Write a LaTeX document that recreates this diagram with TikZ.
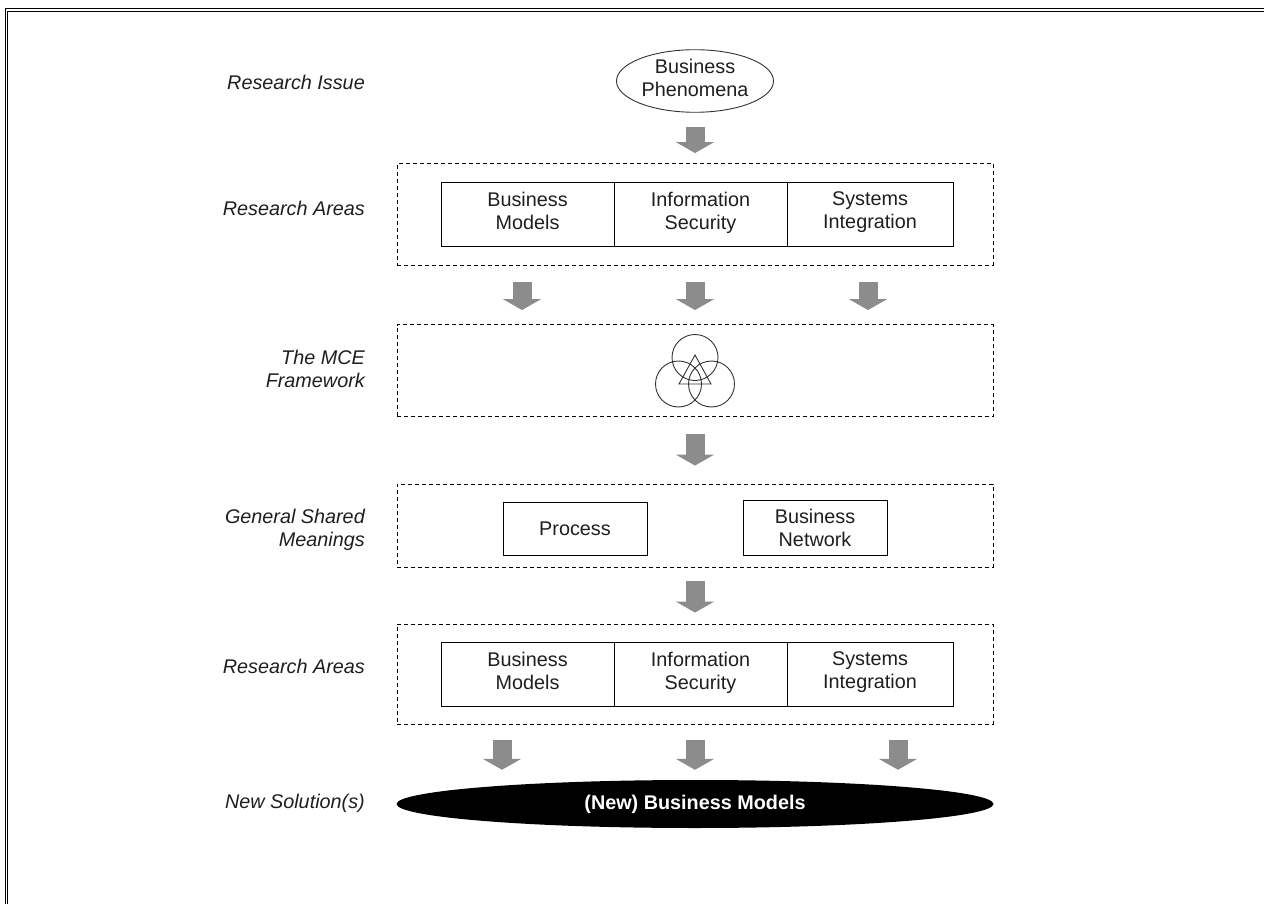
\documentclass[tikz,border=0pt]{standalone}
\usepackage{fontspec}
\setmainfont{Liberation Sans}
\usetikzlibrary{shapes.geometric,arrows.meta}
\definecolor{arrowgray}{RGB}{140,140,140}
\definecolor{labgray}{RGB}{30,30,30}
\definecolor{symgray}{RGB}{50,50,50}
\newcommand\bodyfont{\fontsize{19.8}{23}\selectfont}
\tikzset{
  lab/.style={font=\bodyfont\itshape, align=right, anchor=east, text=labgray, inner sep=0},
  cellbase/.style={draw, line width=0.9pt, minimum height=64, inner sep=0, align=center, font=\bodyfont, text=labgray},
  cell/.style={cellbase, execute at end node=\strut},
  grp/.style={draw, dash pattern=on 4pt off 3pt, line width=0.9pt, inner sep=0},
  barrow/.style={line width=19pt, draw=arrowgray, -{Triangle[width=38pt,length=11pt]}},
  ring/.style={circle, draw=symgray, line width=0.9pt, minimum size=46, inner sep=0},
  frame/.style={line width=1.1pt}
}
\begin{document}
\begin{tikzpicture}[x=1pt,y=-1pt]
\useasboundingbox (0,0) rectangle (1264,904);
% double frame
\draw[frame] (5.5,904) -- (5.5,8.3) -- (1264,8.3);
\draw[frame] (7.8,904) -- (7.8,11.6) -- (1264,11.6);

% labels
\node[lab] (l1) at (365,82) {Research Issue};
\node[lab] (l2) at (365,208) {Research Areas};
\node[lab] (l3) at (365,369) {The MCE\\Framework};
\node[lab] (l4) at (365,530) {General Shared\\Meanings};
\node[lab] (l5) at (365,666) {Research Areas};
\node[lab] (l6) at (365,803) {New Solution(s)};

% research issue
\node[ellipse, draw=symgray, line width=0.9pt, minimum width=157, minimum height=58, inner sep=0, align=center, font=\bodyfont, text=labgray, execute at end node=\strut] (ph) at (695,81) {Business\\Phenomena};

% group boxes
\node[grp, minimum width=596, minimum height=101.5] (g1) at (695,214.25) {};
\node[grp, minimum width=596, minimum height=92] (g2) at (695,370.5) {};
\node[grp, minimum width=596, minimum height=83] (g3) at (695,525.5) {};
\node[grp, minimum width=596, minimum height=100] (g4) at (695,674) {};

% research areas 1
\node[cell, minimum width=173] (bm1) at (527.5,214) {Business\\Models};
\node[cell, minimum width=173] (is1) at (700.5,214) {Information\\Security};
\node[cell, minimum width=166] (si1) at (870,214) {Systems\\Integration};

% MCE symbol
\node[ring] (c1) at (695,357.5) {};
\node[ring] (c2) at (678.5,384) {};
\node[ring] (c3) at (711.5,384) {};
\draw[symgray, line width=0.9pt] (695,355) -- (679,384) -- (711,384) -- cycle;

% shared meanings
\node[cellbase, minimum width=144, minimum height=53] (pr) at (575,529) {Process};
\node[cellbase, minimum width=144, minimum height=55] (bn) at (815,527.5) {Business\\Network};

% research areas 2
\node[cell, minimum width=173] (bm2) at (527.5,674) {Business\\Models};
\node[cell, minimum width=173] (is2) at (700.5,674) {Information\\Security};
\node[cell, minimum width=166] (si2) at (870,674) {Systems\\Integration};

% new solution
\node[ellipse, fill=black, minimum width=597, minimum height=48, inner sep=0, text=white, font=\bodyfont\bfseries] (ns) at (695,804) {(New) Business Models};

% block arrows
\draw[barrow] ([yshift=-14]ph.south) -- ([yshift=10]g1.north);
\draw[barrow] ([xshift=-173,yshift=-17]g1.south) -- ([xshift=-173,yshift=14]g2.north);
\draw[barrow] ([yshift=-17]g1.south) -- ([yshift=14]g2.north);
\draw[barrow] ([xshift=173,yshift=-17]g1.south) -- ([xshift=173,yshift=14]g2.north);
\draw[barrow] ([yshift=-17.5]g2.south) -- ([yshift=18]g3.north);
\draw[barrow] ([yshift=-14]g3.south) -- ([yshift=11]g4.north);
\draw[barrow] ([xshift=-193,yshift=-16]g4.south) -- ([xshift=-193,yshift=10]ns.north);
\draw[barrow] ([yshift=-16]g4.south) -- ([yshift=10]ns.north);
\draw[barrow] ([xshift=203,yshift=-16]g4.south) -- ([xshift=203,yshift=10]ns.north);
\end{tikzpicture}
\end{document}
